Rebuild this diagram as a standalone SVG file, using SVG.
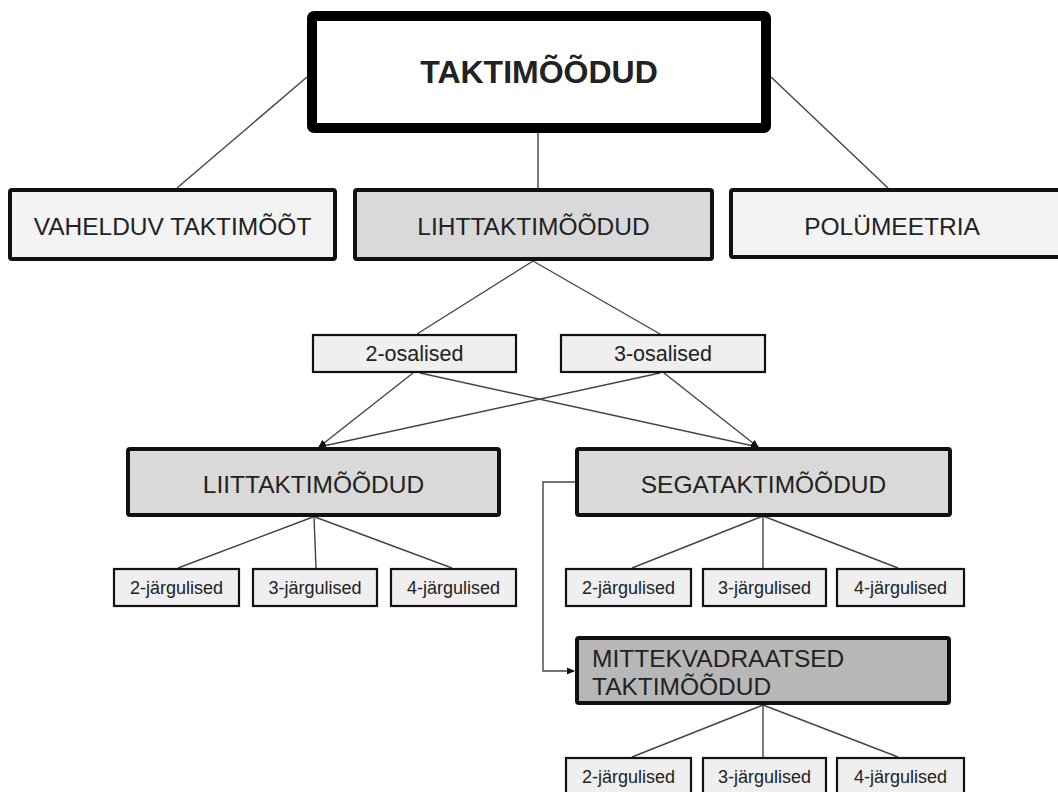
<svg xmlns="http://www.w3.org/2000/svg" width="1058" height="792" viewBox="0 0 1058 792">
<style>
  .lbl { font-family: "Liberation Sans", Arial, sans-serif; fill: #222; }
  .big { font-size: 24.5px; }
  .mid { font-size: 21.5px; }
  .sm { font-size: 18px; }
  .l2 { stroke: #111; stroke-width: 4; }
  .l3 { stroke: #111; stroke-width: 2.2; }
  .con { stroke: #444; stroke-width: 1.4; fill: none; }
</style>
<defs>
  <marker id="ah" markerWidth="8" markerHeight="8" refX="7" refY="4" orient="auto" markerUnits="userSpaceOnUse">
    <path d="M0,0.5 L8,4 L0,7.5 Z" fill="#111"/>
  </marker>
</defs>
<rect x="0" y="0" width="1058" height="792" fill="#ffffff"/>

<g id="connectors">
  <line class="con" x1="307" y1="77" x2="177" y2="188"/>
  <line class="con" x1="538" y1="133" x2="538" y2="188"/>
  <line class="con" x1="771" y1="77" x2="888" y2="188"/>
  <line class="con" x1="533" y1="261" x2="417" y2="334"/>
  <line class="con" x1="533" y1="261" x2="660" y2="334"/>
  <line class="con" x1="413" y1="373" x2="319" y2="447" marker-end="url(#ah)"/>
  <line class="con" x1="420" y1="373" x2="758" y2="447" marker-end="url(#ah)"/>
  <line class="con" x1="660" y1="373" x2="319" y2="447" marker-end="url(#ah)"/>
  <line class="con" x1="664" y1="373" x2="758" y2="447" marker-end="url(#ah)"/>
  <line class="con" x1="313" y1="517" x2="178" y2="568"/>
  <line class="con" x1="314" y1="517" x2="316" y2="568"/>
  <line class="con" x1="315" y1="517" x2="452" y2="568"/>
  <line class="con" x1="763" y1="516" x2="632" y2="568"/>
  <line class="con" x1="763" y1="516" x2="763" y2="568"/>
  <line class="con" x1="763" y1="516" x2="898" y2="568"/>
  <polyline class="con" points="575,482 543,482 543,671 574,671" marker-end="url(#ah)"/>
  <line class="con" x1="763" y1="705" x2="632" y2="757"/>
  <line class="con" x1="763" y1="705" x2="763" y2="757"/>
  <line class="con" x1="763" y1="705" x2="898" y2="757"/>
</g>

<g id="taktimoodud">
  <rect x="312" y="16" width="454" height="112" rx="2" fill="#ffffff" stroke="#000" stroke-width="10"/>
  <text class="lbl" x="539" y="83" text-anchor="middle" font-size="32" font-weight="bold" fill="#000">TAKTIMÕÕDUD</text>
</g>
<g id="vahelduv">
  <rect class="l2" x="10" y="190" width="325" height="69" rx="2" fill="#f3f3f3"/>
  <text class="lbl big" x="172.5" y="235" text-anchor="middle">VAHELDUV TAKTIMÕÕT</text>
</g>
<g id="lihttaktimoodud">
  <rect class="l2" x="355" y="190" width="357" height="69" rx="2" fill="#d9d9d9"/>
  <text class="lbl big" x="533.5" y="235" text-anchor="middle">LIHTTAKTIMÕÕDUD</text>
</g>
<g id="polumeetria">
  <rect class="l2" x="731" y="190" width="329" height="67" rx="2" fill="#f3f3f3"/>
  <text class="lbl big" x="892" y="235" text-anchor="middle">POLÜMEETRIA</text>
</g>
<g id="osalised2">
  <rect class="l3" x="313" y="335" width="203" height="37" fill="#efefef"/>
  <text class="lbl mid" x="414.5" y="361" text-anchor="middle">2-osalised</text>
</g>
<g id="osalised3">
  <rect class="l3" x="561" y="335" width="204" height="37" fill="#efefef"/>
  <text class="lbl mid" x="663" y="361" text-anchor="middle">3-osalised</text>
</g>
<g id="liittaktimoodud">
  <rect class="l2" x="128" y="449" width="371" height="66" rx="2" fill="#d9d9d9"/>
  <text class="lbl big" x="313.5" y="493" text-anchor="middle">LIITTAKTIMÕÕDUD</text>
</g>
<g id="segataktimoodud">
  <rect class="l2" x="577" y="449" width="373" height="66" rx="2" fill="#d9d9d9"/>
  <text class="lbl big" x="763.5" y="493" text-anchor="middle">SEGATAKTIMÕÕDUD</text>
</g>
<g id="mittekvadraatsed">
  <rect class="l2" x="577" y="638" width="372" height="65" rx="2" fill="#b7b7b7"/>
  <text class="lbl big" x="592" y="667">MITTEKVADRAATSED</text>
  <text class="lbl big" x="592" y="695">TAKTIMÕÕDUD</text>
</g>

<g id="liit-j2"><rect class="l3" x="114" y="569" width="125" height="37" fill="#efefef"/><text class="lbl sm" x="176.5" y="594" text-anchor="middle">2-järgulised</text></g>
<g id="liit-j3"><rect class="l3" x="253" y="569" width="124" height="37" fill="#efefef"/><text class="lbl sm" x="315" y="594" text-anchor="middle">3-järgulised</text></g>
<g id="liit-j4"><rect class="l3" x="391" y="569" width="125" height="37" fill="#efefef"/><text class="lbl sm" x="453.5" y="594" text-anchor="middle">4-järgulised</text></g>

<g id="sega-j2"><rect class="l3" x="566" y="569" width="125" height="37" fill="#efefef"/><text class="lbl sm" x="628.5" y="594" text-anchor="middle">2-järgulised</text></g>
<g id="sega-j3"><rect class="l3" x="703" y="569" width="123" height="37" fill="#efefef"/><text class="lbl sm" x="764.5" y="594" text-anchor="middle">3-järgulised</text></g>
<g id="sega-j4"><rect class="l3" x="837" y="569" width="127" height="37" fill="#efefef"/><text class="lbl sm" x="900.5" y="594" text-anchor="middle">4-järgulised</text></g>

<g id="mitt-j2"><rect class="l3" x="566" y="758" width="125" height="40" fill="#efefef"/><text class="lbl sm" x="628.5" y="783" text-anchor="middle">2-järgulised</text></g>
<g id="mitt-j3"><rect class="l3" x="703" y="758" width="123" height="40" fill="#efefef"/><text class="lbl sm" x="764.5" y="783" text-anchor="middle">3-järgulised</text></g>
<g id="mitt-j4"><rect class="l3" x="837" y="758" width="127" height="40" fill="#efefef"/><text class="lbl sm" x="900.5" y="783" text-anchor="middle">4-järgulised</text></g>
</svg>
